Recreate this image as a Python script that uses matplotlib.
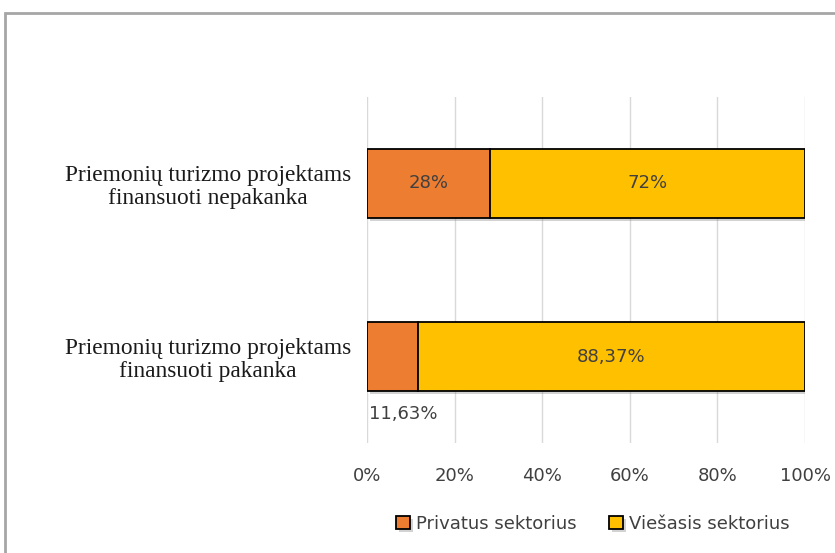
import matplotlib.pyplot as plt
import matplotlib.patheffects as pe
from matplotlib.patches import Rectangle

categories = ['Priemonių turizmo projektams\nfinansuoti pakanka',
              'Priemonių turizmo projektams\nfinansuoti nepakanka']
privatus = [11.63, 28]
viesasis = [88.37, 72]
privatus_labels = ['11,63%', '28%']
viesasis_labels = ['88,37%', '72%']
series_names = ['Privatus sektorius', 'Viešasis sektorius']
xticks = [0, 20, 40, 60, 80, 100]

orange = '#ED7D31'
yellow = '#FFC000'
text_col = '#404040'
fs = 13

fig = plt.figure(figsize=(8.35, 5.53), dpi=100)
ax = fig.add_axes([367 / 835, 1 - 443 / 553, 438 / 835, 346 / 553])

shadow = [pe.SimplePatchShadow(offset=(2, -2), shadow_rgbFace='#808080', alpha=0.35),
          pe.Normal()]
y = range(len(categories))
ax.barh(y, privatus, height=0.4, color=orange, edgecolor='black', linewidth=1.3,
        label=series_names[0], zorder=3, path_effects=shadow)
ax.barh(y, viesasis, left=privatus, height=0.4, color=yellow, edgecolor='black',
        linewidth=1.3, label=series_names[1], zorder=3, path_effects=shadow)

for i in y:
    if privatus[i] > 20:
        ax.text(privatus[i] / 2, i, privatus_labels[i], ha='center', va='center',
                fontsize=fs, color=text_col, zorder=4)
    else:
        ax.text(privatus[i] / 2 + 2.5, i - 0.33, privatus_labels[i], ha='center',
                va='center', fontsize=fs, color=text_col, zorder=4)
    ax.text(privatus[i] + viesasis[i] / 2, i, viesasis_labels[i], ha='center',
            va='center', fontsize=fs, color=text_col, zorder=4)

ax.set_xlim(0, 100)
ax.set_ylim(-0.5, 1.5)
ax.set_xticks(xticks)
ax.set_xticklabels([f'{t}%' for t in xticks], fontsize=fs, color=text_col)
ax.set_yticks(list(y))
ax.set_yticklabels(categories, family='Liberation Serif', fontsize=16.8,
                   ha='center', color='#1a1a1a', linespacing=1.12)
ax.tick_params(axis='y', length=0, pad=114.5)
ax.tick_params(axis='x', length=0, pad=17)
ax.grid(axis='x', color='#d9d9d9', linewidth=1, zorder=0)
for s in ax.spines.values():
    s.set_visible(False)

leg = fig.legend(loc='center', bbox_to_anchor=(593 / 835, 1 - 524 / 553), ncol=2,
                 frameon=False, fontsize=fs, handlelength=0.75, handleheight=0.75,
                 columnspacing=1.8, handletextpad=0.35)
for t in leg.get_texts():
    t.set_color(text_col)

# outer chart border
fig.patches.append(Rectangle((5 / 835, -0.05), 1.1, 1 - 13 / 553 + 0.05,
                             transform=fig.transFigure, fill=False,
                             edgecolor='#a6a6a6', linewidth=2))

fig.savefig('out.png', dpi=100)
